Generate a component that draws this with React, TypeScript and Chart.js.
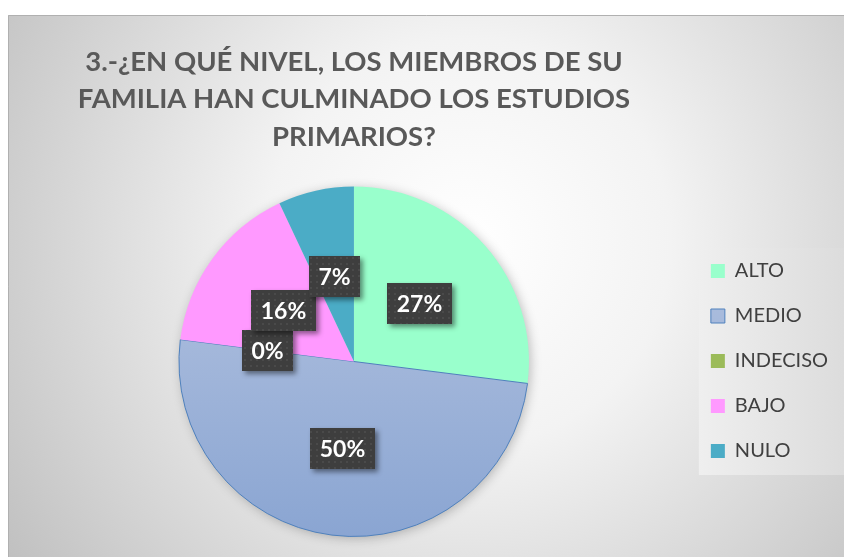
import React, { useEffect, useRef } from 'react';
import { Chart, registerables } from 'chart.js';

Chart.register(...registerables);

const categories = ['ALTO', 'MEDIO', 'INDECISO', 'BAJO', 'NULO'];
const values = [27, 50, 0, 16, 7];
const sliceColors = ['#99FFCC', '#A6B9DC', '#9BBB59', '#FF99FF', '#4BACC6'];
const borderColors = ['#99FFCC', '#4F81BD', '#9BBB59', '#FF99FF', '#4BACC6'];
const borderWidths = [0, 1, 0, 0, 0];
const titleLines = ['3.-¿EN QUÉ NIVEL, LOS MIEMBROS DE SU', 'FAMILIA HAN CULMINADO LOS ESTUDIOS', 'PRIMARIOS?'];

function makePattern(): CanvasPattern | string {
  const c = document.createElement('canvas');
  c.width = 6;
  c.height = 6;
  const x = c.getContext('2d');
  if (!x) return '#3f3f3f';
  x.fillStyle = '#3e3e3e';
  x.fillRect(0, 0, 6, 6);
  x.fillStyle = '#4a4a4a';
  x.fillRect(2, 2, 2, 2);
  const p = x.createPattern(c, 'repeat');
  return p || '#3f3f3f';
}

const LEGEND_PAD = 25;

const bgPlugin = {
  id: 'bgPlugin',
  beforeDraw(chart: any) {
    const { ctx, width, height } = chart;
    ctx.save();
    const cx = width * 0.55;
    const cy = height * 0.42;
    const g = ctx.createRadialGradient(cx, cy, 0, cx, cy, 580);
    g.addColorStop(0, '#ffffff');
    g.addColorStop(0.35, '#f3f3f3');
    g.addColorStop(1, '#bdbdbd');
    ctx.fillStyle = g;
    ctx.fillRect(0, 0, width, height);
    ctx.strokeStyle = '#b0b0b0';
    ctx.lineWidth = 1;
    ctx.beginPath();
    ctx.moveTo(0.5, height);
    ctx.lineTo(0.5, 0.5);
    ctx.lineTo(width, 0.5);
    ctx.stroke();

    const lg = chart.legend;
    if (lg) {
      const colH = (lg.columnSizes && lg.columnSizes[0] && lg.columnSizes[0].height) || 225;
      const th = typeof lg._computeTitleHeight === 'function' ? lg._computeTitleHeight() : 0;
      const y0 = (lg.top + th + LEGEND_PAD + lg.bottom - colH) / 2;
      const top = y0 - 13;
      const bottom = y0 + colH - LEGEND_PAD + 14;
      const left = lg.left + 13;
      const lgG = ctx.createLinearGradient(left, 0, width, 0);
      lgG.addColorStop(0, '#efefef');
      lgG.addColorStop(1, '#dcdcdc');
      ctx.fillStyle = lgG;
      ctx.fillRect(left, top, width - left, bottom - top);
    }
    ctx.restore();
  },
};

const pieShadowPlugin = {
  id: 'pieShadow',
  beforeDatasetsDraw(chart: any) {
    const meta = chart.getDatasetMeta(0);
    const arc = meta.data[0];
    if (!arc) return;
    const { x, y, outerRadius } = arc.getProps(['x', 'y', 'outerRadius'], true);
    const { ctx } = chart;
    ctx.save();
    ctx.shadowColor = 'rgba(0,0,0,0.28)';
    ctx.shadowBlur = 12;
    ctx.shadowOffsetX = 2;
    ctx.shadowOffsetY = 2;
    ctx.fillStyle = '#dddddd';
    ctx.beginPath();
    ctx.arc(x, y, outerRadius - 1, 0, Math.PI * 2);
    ctx.fill();
    ctx.restore();
  },
};

let boxPattern: CanvasPattern | string | null = null;

const valueBoxPlugin = {
  id: 'valueBoxes',
  afterDatasetsDraw(chart: any) {
    const { ctx } = chart;
    if (!boxPattern) boxPattern = makePattern();
    const meta = chart.getDatasetMeta(0);
    const data: number[] = chart.data.datasets[0].data;
    const total = data.reduce((a, b) => a + b, 0);
    ctx.save();
    ctx.font = 'bold 23px Lato';
    meta.data.forEach((arc: any, i: number) => {
      const { x, y, startAngle, endAngle, outerRadius } = arc.getProps(
        ['x', 'y', 'startAngle', 'endAngle', 'outerRadius'],
        true
      );
      const mid = (startAngle + endAngle) / 2;
      const r = outerRadius * 0.5;
      const cx = x + Math.cos(mid) * r;
      const cy = y + Math.sin(mid) * r;
      const text = Math.round((data[i] / total) * 100) + '%';
      const tw = ctx.measureText(text).width;
      const w = Math.round(tw + 19);
      const h = 41;
      const bx = Math.round(cx - w / 2);
      const by = Math.round(cy - h / 2);
      ctx.save();
      ctx.shadowColor = 'rgba(0,0,0,0.45)';
      ctx.shadowBlur = 5;
      ctx.shadowOffsetX = 3;
      ctx.shadowOffsetY = 3;
      ctx.fillStyle = '#3e3e3e';
      ctx.fillRect(bx, by, w, h);
      ctx.restore();
      ctx.fillStyle = boxPattern as any;
      ctx.fillRect(bx, by, w, h);
      ctx.fillStyle = '#ffffff';
      ctx.textAlign = 'center';
      ctx.textBaseline = 'middle';
      ctx.fillText(text, bx + w / 2, by + h / 2 + 1);
    });
    ctx.restore();
  },
};

export default function App() {
  const canvasRef = useRef<HTMLCanvasElement | null>(null);

  useEffect(() => {
    document.body.style.margin = '0';
    const canvas = canvasRef.current;
    if (!canvas) return;
    Chart.defaults.font.family = 'Lato';

    const mediumFill = (context: any) => {
      const chart = context.chart;
      const area = chart.chartArea;
      if (!area) return sliceColors[1];
      const g = chart.ctx.createLinearGradient(0, area.top, 0, area.bottom);
      g.addColorStop(0, '#B9C7E2');
      g.addColorStop(1, '#8AA5D2');
      return g;
    };

    const chart = new Chart(canvas, {
      type: 'pie',
      data: {
        labels: categories,
        datasets: [
          {
            data: values,
            backgroundColor: (context: any) =>
              context.dataIndex === 1 ? mediumFill(context) : sliceColors[context.dataIndex],
            borderColor: borderColors,
            borderWidth: borderWidths,
          },
        ],
      },
      options: {
        responsive: false,
        animation: false,
        events: [],
        layout: { padding: { left: 14, right: 6, top: 0, bottom: 20 } },
        plugins: {
          title: {
            display: true,
            text: titleLines,
            fullSize: false,
            color: '#595959',
            font: { family: 'Lato', size: 27.5, weight: 'bold', lineHeight: 1.364 },
            padding: { top: 28, bottom: 30.5 },
          },
          legend: {
            display: true,
            position: 'right',
            align: 'center',
            title: {
              display: true,
              text: '',
              font: { size: 10, lineHeight: 1 },
              padding: { top: 160, bottom: 0 },
            },
            labels: {
              boxWidth: 14,
              boxHeight: 14,
              padding: LEGEND_PAD,
              color: '#404040',
              font: { family: 'Lato', size: 20 },
            },
          },
          tooltip: { enabled: false },
        },
      },
      plugins: [bgPlugin, pieShadowPlugin, valueBoxPlugin],
    } as any);

    return () => {
      chart.destroy();
    };
  }, []);

  return (
    <div style={{ position: 'relative', width: 844, height: 557, background: '#ffffff', overflow: 'hidden' }}>
      <canvas
        ref={canvasRef}
        width={836}
        height={542}
        style={{ position: 'absolute', left: 8, top: 15, width: 836, height: 542 }}
      />
    </div>
  );
}
